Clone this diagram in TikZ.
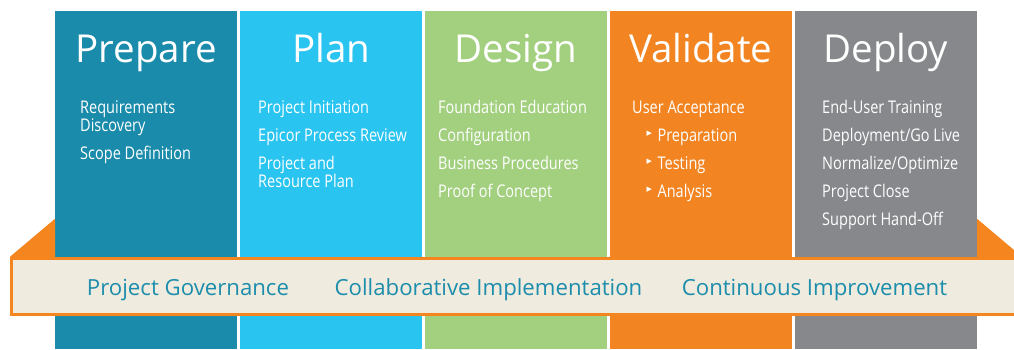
\documentclass[tikz,border=0pt]{standalone}
\usepackage{fontspec}
\setmainfont{Open Sans}
\newfontfamily\narrowfont[FakeStretch=0.83]{Open Sans}
\newfontfamily\symfont{DejaVu Sans}
\usetikzlibrary{positioning, calc}

\definecolor{preparecol}{HTML}{1A8BAA}
\definecolor{plancol}{HTML}{2AC4F1}
\definecolor{designcol}{HTML}{A2D07F}
\definecolor{validatecol}{HTML}{F28522}
\definecolor{deploycol}{HTML}{87888C}
\definecolor{bandfill}{HTML}{EFEBDF}
\definecolor{bandorange}{HTML}{F5861F}
\definecolor{themeblue}{HTML}{1D8DAC}

\newcommand{\bul}{\raisebox{5.5pt}{\symfont\fontsize{7}{7}\selectfont ▶}\hspace{5.5pt}}

\tikzset{
  phase/.style={minimum width=182pt, minimum height=338pt, inner sep=0pt, anchor=north west},
  title/.style={font=\fontsize{38.5}{38.5}\selectfont, text=white, anchor=base, inner sep=0pt},
  item/.style={font=\narrowfont\fontsize{17.5}{17.5}\selectfont, text=white, anchor=base west, inner sep=0pt},
  band/.style={draw=bandorange, line width=3pt, fill=bandfill, minimum width=1006.5pt, minimum height=56.3pt, inner sep=0pt},
  theme/.style={font=\fontsize{22.2}{22.2}\selectfont, text=themeblue, anchor=base, inner sep=0pt},
  wing/.style={fill=bandorange}
}

\begin{document}
\begin{tikzpicture}[x=1pt, y=-1pt]
        \useasboundingbox (0,0) rectangle (1014,349);
        \clip (0,0) rectangle (1014,349);
        % the five phases
        \node[phase, fill=preparecol] (prepare) at (55,11) {};
        \node[phase, fill=plancol, right=2.5pt of prepare] (plan) {};
        \node[phase, fill=designcol, right=2.5pt of plan] (design) {};
        \node[phase, fill=validatecol, right=2.5pt of design] (validate) {};
        \node[phase, fill=deploycol, right=2.5pt of validate] (deploy) {};

        \node[title] (prepare-title) at ([yshift=-51pt]prepare.north) {Prepare};
        \node[title] (plan-title) at ([yshift=-51pt]plan.north) {Plan};
        \node[title] (design-title) at ([yshift=-51pt]design.north) {Design};
        \node[title] (validate-title) at ([yshift=-51pt]validate.north) {Validate};
        \node[title] (deploy-title) at ([yshift=-51pt]deploy.north) {Deploy};

        % tasks of each phase
        \foreach \y/\txt [count=\i] in {113/Requirements, 131/Discovery, 159/Scope Definition}
            \node[item] (prepare-\i) at (80,\y) {\txt};
        \foreach \y/\txt [count=\i] in {113/Project Initiation, 141/Epicor Process Review, 169/Project and, 187/Resource Plan}
            \node[item] (plan-\i) at (258,\y) {\txt};
        \foreach \y/\txt [count=\i] in {113/Foundation Education, 141/Configuration, 169/Business Procedures, 197/Proof of Concept}
            \node[item] (design-\i) at (438,\y) {\txt};
        \node[item] (validate-1) at (632,113) {User Acceptance};
        \foreach \y/\txt [count=\i from 2] in {141/Preparation, 169/Testing, 197/Analysis}
            \node[item] (validate-\i) at (646.5,\y) {\bul\txt};
        \foreach \y/\txt [count=\i] in {113/End-User Training, 141/{Deployment/Go Live}, 169/{Normalize/Optimize}, 197/Project Close, 225/Support Hand-Off}
            \node[item] (deploy-\i) at (822,\y) {\txt};

        % ribbon across the phases
        \node[band] (band) at (514.75,286.4) {};
        \fill[wing] (band.north west) -- ($(prepare.west |- band.north)+(0,-38)$) -- (prepare.west |- band.north) -- cycle;
        \fill[wing] (deploy.east |- band.north) -- ($(deploy.east |- band.north)+(0,-38)$) -- ($(deploy.east |- band.north)+(45,0)$) -- cycle;

        \node[theme] (governance) at (188,295) {Project Governance};
        \node[theme] (collaborative) at (488.5,295) {Collaborative Implementation};
        \node[theme] (improvement) at (814.5,295) {Continuous Improvement};
    \end{tikzpicture}
\end{document}
